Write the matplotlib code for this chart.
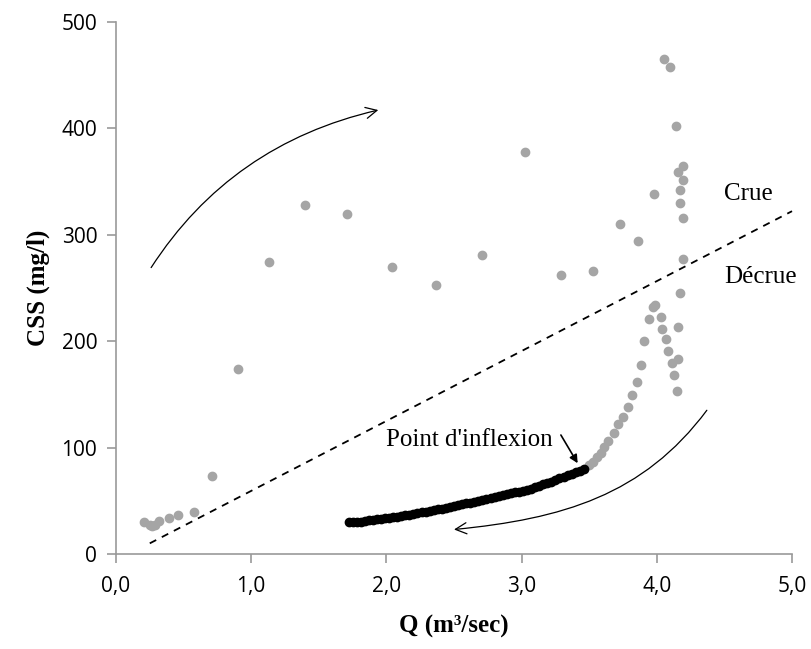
import matplotlib
matplotlib.use("Agg")
import matplotlib.pyplot as plt
import matplotlib.transforms as mtransforms
from matplotlib.patches import FancyArrowPatch
from matplotlib.path import Path

# Gray points (hysteresis loop: rising + falling limbs)
q_gray = [0.21, 0.25, 0.27, 0.29, 0.32, 0.39, 0.46, 0.58, 0.71, 0.905, 1.13, 1.40, 1.71,
          2.04, 2.37, 2.71, 3.025, 3.29, 3.53, 3.73, 3.86, 3.98, 4.055, 4.10, 4.145,
          4.19, 4.16, 4.19, 4.17, 4.17, 4.19, 4.19, 4.17, 3.99, 3.97, 4.03, 3.94, 4.04,
          4.16, 4.07, 3.905, 4.085, 4.16, 4.115, 3.88, 4.13, 3.85, 4.15, 3.82, 3.79,
          3.75, 3.71, 3.68, 3.64, 3.61, 3.585, 3.555, 3.53, 3.50]
css_gray = [29.7, 27.5, 26.5, 27.0, 31.0, 34.0, 37.0, 39.5, 73.5, 174.0, 274.0, 328.0, 319.0,
            270.0, 253.0, 281.0, 377.5, 262.0, 266.0, 310.0, 294.0, 338.0, 464.5, 457.0, 402.0,
            364.5, 358.5, 351.0, 341.5, 330.0, 316.0, 277.0, 245.0, 234.0, 232.0, 223.0, 221.0, 211.5,
            213.0, 202.0, 200.0, 190.5, 183.0, 179.0, 177.5, 168.0, 162.0, 153.0, 149.0, 137.7,
            128.3, 122.0, 113.3, 106.4, 100.2, 95.0, 91.0, 86.4, 83.3]

# Black points (recession after inflection point)
q_black = [1.72, 1.75, 1.78, 1.81, 1.84, 1.87, 1.90, 1.93, 1.96, 1.99, 2.02, 2.05, 2.08, 2.11,
           2.14, 2.17, 2.20, 2.23, 2.26, 2.29, 2.32, 2.35, 2.38, 2.41, 2.44, 2.47, 2.50, 2.53,
           2.56, 2.59, 2.62, 2.65, 2.68, 2.71, 2.74, 2.77, 2.80, 2.83, 2.86, 2.89, 2.92, 2.95,
           2.98, 3.01, 3.04, 3.07, 3.10, 3.13, 3.16, 3.19, 3.22, 3.25, 3.28, 3.31, 3.34, 3.37,
           3.40, 3.43, 3.46]
css_black = [30, 30, 30, 30.5, 31, 31.5, 32, 32.5, 33, 33.5, 34, 34.5, 35, 35.5,
             36.5, 37, 37.5, 38.5, 39, 39.5, 40.5, 41, 42, 42.5, 43.5, 44, 45, 46,
             46.5, 47.5, 48, 49, 50, 51, 51.5, 52.5, 53.5, 54.5, 55, 56, 57, 58,
             58.5, 59.5, 60.5, 61.5, 63, 64, 65.5, 66.5, 68, 69.5, 71, 72.5, 74, 75.5,
             77, 78, 79.5]

# Separation line (Crue / Décrue)
sep_q = [0.25, 5.0]
sep_css = [10, 322]

x_ticks = [0, 1, 2, 3, 4, 5]
x_labels = ["0,0", "1,0", "2,0", "3,0", "4,0", "5,0"]
y_ticks = [0, 100, 200, 300, 400, 500]

fig = plt.figure(figsize=(8.11, 6.49), dpi=100)
ax = fig.add_axes([0.143, 0.1464, 0.8336, 0.8202])

ax.plot(sep_q, sep_css, color="black", linestyle=(0, (4, 3.5)), linewidth=1.3, zorder=1,
        clip_on=False)
ax.plot(q_gray, css_gray, linestyle="none", marker="o", markersize=6,
        color="#A5A5A5", markeredgecolor="#A5A5A5", zorder=2)
ax.plot(q_black, css_black, color="#E000E0", linewidth=1.0, zorder=2,
        transform=ax.transData + mtransforms.ScaledTranslation(0, -3 / 100, fig.dpi_scale_trans))
ax.plot(q_black, css_black, linestyle="none", marker="o", markersize=6,
        color="black", zorder=3)

ax.set_xlim(0, 5)
ax.set_ylim(0, 500)
ax.set_xticks(x_ticks)
ax.set_xticklabels(x_labels)
ax.set_yticks(y_ticks)

for s in ["top", "right"]:
    ax.spines[s].set_visible(False)
for s in ["left", "bottom"]:
    ax.spines[s].set_color("#999999")
    ax.spines[s].set_linewidth(1.2)
ax.tick_params(axis="both", direction="out", color="#999999", width=1.2, length=6.5,
               labelsize=15, labelcolor="black")
ax.tick_params(axis="x", pad=9)
ax.tick_params(axis="y", pad=7)
for lab in ax.get_xticklabels() + ax.get_yticklabels():
    lab.set_fontfamily("Open Sans")

serif = "Liberation Serif"
ax.set_xlabel("Q (m³/sec)", fontsize=18, fontweight="bold", family=serif, labelpad=13)
ax.set_ylabel("CSS (mg/l)", fontsize=18, fontweight="bold", family=serif, labelpad=8)

ax.text(4.68, 338, "Crue", fontsize=18, family=serif, ha="center", va="center")
ax.text(4.77, 260, "Décrue", fontsize=18, family=serif, ha="center", va="center")
ax.text(2.61, 107, "Point d'inflexion", fontsize=18, family=serif, ha="center", va="center")

# Inflection arrow
ax.annotate("", xy=(3.425, 83), xytext=(3.28, 114),
            arrowprops=dict(arrowstyle="-|>", color="black", lw=1.2, mutation_scale=12))

# Rising limb arrow (open head)
p1 = Path([(0.26, 269), (0.85, 385), (1.94, 417)], [Path.MOVETO, Path.CURVE3, Path.CURVE3])
ax.add_patch(FancyArrowPatch(path=p1, arrowstyle="->", mutation_scale=20, color="black", lw=0.9))

# Falling limb arrow (open head)
p2 = Path([(4.37, 135), (3.9, 55), (3.3, 33), (2.50, 23)],
          [Path.MOVETO, Path.CURVE4, Path.CURVE4, Path.CURVE4])
ax.add_patch(FancyArrowPatch(path=p2, arrowstyle="->", mutation_scale=20, color="black", lw=0.9))

fig.savefig("out.png", dpi=100)
